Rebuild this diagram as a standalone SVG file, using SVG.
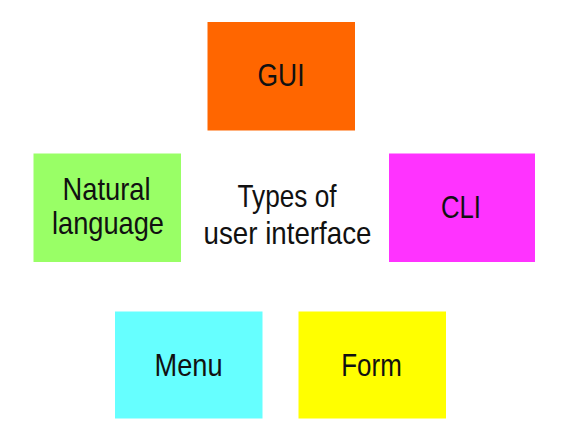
<svg xmlns="http://www.w3.org/2000/svg" width="566" height="442" viewBox="0 0 566 442">
<style>
.box{stroke:none}
.lbl{font-family:"Liberation Sans",Arial,sans-serif;font-size:32px;fill:#111;text-anchor:middle}
</style>
<rect width="566" height="442" fill="#fff"/>
<g id="connectors"></g>
<g id="gui">
<rect class="box" x="207.5" y="22" width="147.5" height="108.5" fill="#FF6600"/>
<text class="lbl" x="281" y="86" textLength="47" lengthAdjust="spacingAndGlyphs">GUI</text>
</g>
<g id="natural">
<rect class="box" x="33.5" y="153.5" width="147.5" height="108.5" fill="#99FF66"/>
<text class="lbl" x="106.5" y="199.5" textLength="88" lengthAdjust="spacingAndGlyphs">Natural</text>
<text class="lbl" x="108" y="234" textLength="112" lengthAdjust="spacingAndGlyphs">language</text>
</g>
<g id="center">
<text class="lbl" x="287" y="206.5" textLength="99" lengthAdjust="spacingAndGlyphs">Types of</text>
<text class="lbl" x="287.5" y="244" textLength="168" lengthAdjust="spacingAndGlyphs">user interface</text>
</g>
<g id="cli">
<rect class="box" x="389" y="153.5" width="146" height="108.5" fill="#FF33FF"/>
<text class="lbl" x="461" y="217.5" textLength="40" lengthAdjust="spacingAndGlyphs">CLI</text>
</g>
<g id="menu">
<rect class="box" x="115" y="311.5" width="147.5" height="107" fill="#66FFFF"/>
<text class="lbl" x="188.5" y="376" textLength="68" lengthAdjust="spacingAndGlyphs">Menu</text>
</g>
<g id="form">
<rect class="box" x="298.5" y="311.5" width="147.5" height="107" fill="#FFFF00"/>
<text class="lbl" x="371.5" y="376" textLength="60.5" lengthAdjust="spacingAndGlyphs">Form</text>
</g>
</svg>
